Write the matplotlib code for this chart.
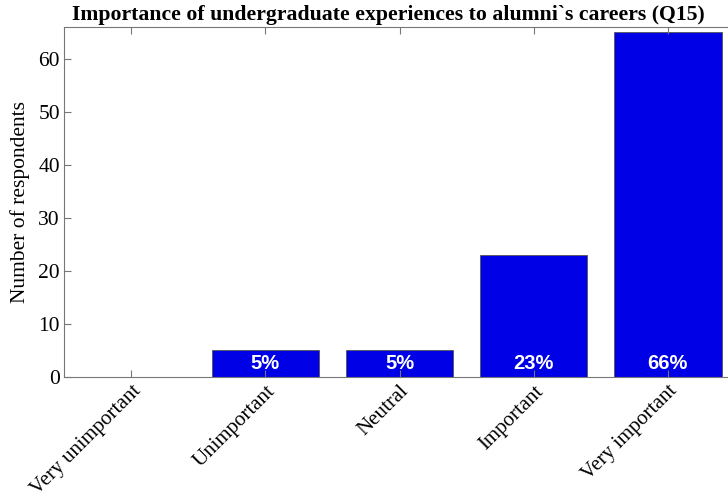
import numpy as np
import matplotlib.pyplot as plt
import matplotlib.transforms as mtransforms

categories = ['Very unimportant', 'Unimportant', 'Neutral', 'Important', 'Very important']
counts = [0, 5, 5, 23, 65]
percents = ['', '5%', '5%', '23%', '66%']

plt.rcParams['font.family'] = ['Liberation Serif', 'DejaVu Serif']

fig = plt.figure(figsize=(7.28, 4.98), dpi=100)
ax = fig.add_axes([64 / 728, 121 / 498, 671 / 728, 350 / 498])

x = np.arange(1, len(categories) + 1)
ax.bar(x, counts, width=0.8, color='#0000e6', edgecolor='#555555', linewidth=0.6)

for xi, c, p in zip(x, counts, percents):
    if p:
        ax.text(xi, 0.7, p, ha='center', va='bottom', color='white',
                fontsize=14.5, fontweight='bold', family='Liberation Sans')

ax.set_xlim(0.5, 5.5)
ax.set_ylim(0, 66)
ax.set_yticks(np.arange(0, 61, 10))
ax.set_xticks(x)
ax.set_xticklabels(categories, rotation=45, ha='right', rotation_mode='anchor', fontsize=15)
shift = mtransforms.ScaledTranslation(0.18, -0.02, fig.dpi_scale_trans)
for lab in ax.get_xticklabels():
    lab.set_transform(lab.get_transform() + shift)
ax.tick_params(axis='y', labelsize=15.5, pad=3)
ax.tick_params(direction='in', top=True, right=True, color='#777777', length=5, width=0.8)
for s in ax.spines.values():
    s.set_color('#777777')
    s.set_linewidth(0.8)
ax.set_ylabel('Number of respondents', fontsize=15.5, labelpad=6)
fig.text(388 / 728, 1 - 15 / 498, 'Importance of undergraduate experiences to alumni`s careers (Q15)',
         ha='center', va='center', fontsize=15.7, fontweight='bold')

fig.savefig('out.png', dpi=100)
